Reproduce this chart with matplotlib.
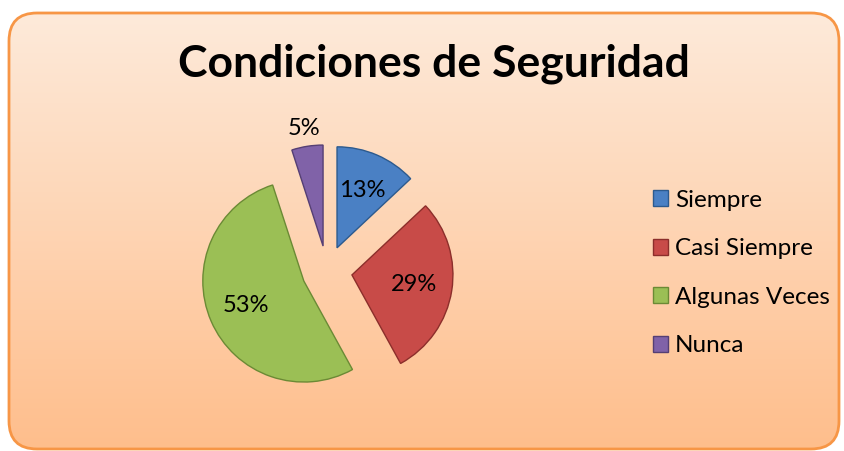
import matplotlib
matplotlib.use("Agg")
import matplotlib.pyplot as plt
import numpy as np
from matplotlib.patches import FancyBboxPatch

plt.rcParams["font.family"] = ["Lato", "DejaVu Sans"]

# data
categorias = ["Siempre", "Casi Siempre", "Algunas Veces", "Nunca"]
porcentajes = [13, 29, 53, 5]
colores = ["#4A80C4", "#C84B48", "#9BBF55", "#8062A8"]
bordes = ["#2C5A8E", "#8C2E2B", "#6B8A35", "#553F74"]

W, H = 845, 451
fig = plt.figure(figsize=(W / 100, H / 100), dpi=100)

# background with rounded orange border and gradient fill
bg = fig.add_axes([0, 0, 1, 1])
bg.set_xlim(0, W)
bg.set_ylim(H, 0)
bg.axis("off")
caja = FancyBboxPatch((9, 13), 830, 436, boxstyle="round,pad=0,rounding_size=28",
                      facecolor="none", edgecolor="#F79646", linewidth=2, zorder=3)
bg.add_patch(caja)
grad = np.linspace(0, 1, 256).reshape(-1, 1)
arriba = np.array([253, 234, 218]) / 255
abajo = np.array([255, 190, 140]) / 255
img = arriba + (abajo - arriba) * grad[..., None]
im = bg.imshow(img, extent=(9, 839, 449, 13), aspect="auto", zorder=1)
im.set_clip_path(caja)

fig.text(434 / W, 1 - 64 / H, "Condiciones de Seguridad", ha="center", va="center",
         fontsize=32, fontweight="bold", color="black")

# pie
r_px = 101
cx, cy = 327, 271
L = 1.7
side = 2 * L * r_px
ax = fig.add_axes([(cx - side / 2) / W, (H - cy - side / 2) / H, side / W, side / H])
wedges, textos, autos = ax.pie(porcentajes, colors=colores, startangle=90, counterclock=False,
                               explode=[0.25] * 4, autopct="%1.0f%%", pctdistance=0.62,
                               textprops={"fontsize": 17, "color": "black"},
                               wedgeprops={"linewidth": 1})
for w, b in zip(wedges, bordes):
    w.set_edgecolor(b)

# Nunca label sits outside its slice
w = wedges[3]
ang = np.deg2rad((w.theta1 + w.theta2) / 2)
autos[3].set_position((w.center[0] + 1.18 * np.cos(ang), w.center[1] + 1.18 * np.sin(ang)))

ax.set_xlim(-L, L)
ax.set_ylim(-L, L)
ax.set_aspect("equal")
ax.axis("off")

fig.legend(wedges, categorias, loc="center left", bbox_to_anchor=(643 / W, 1 - 273 / H),
           frameon=False, fontsize=17.5, handlelength=0.62, handleheight=0.62,
           handletextpad=0.3, labelspacing=1.13, borderaxespad=0)

fig.savefig("out.png", dpi=100)
